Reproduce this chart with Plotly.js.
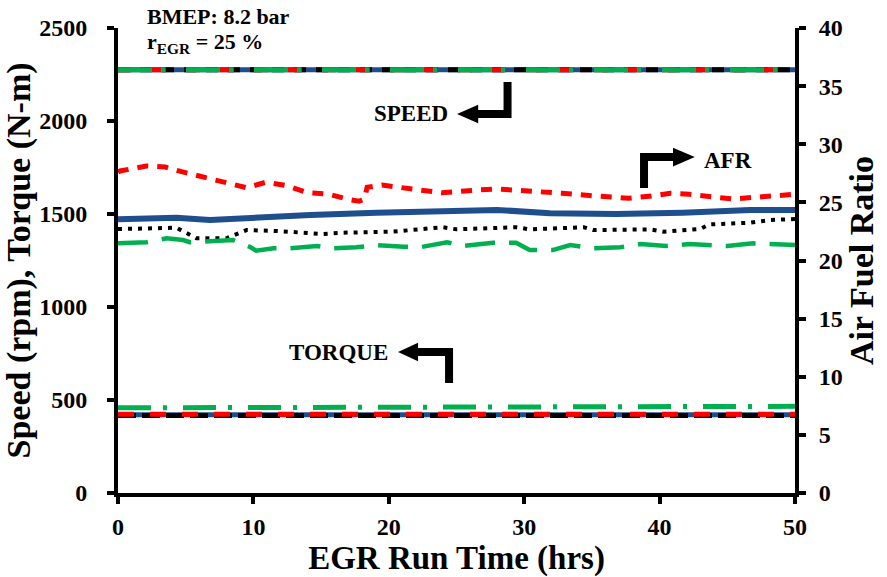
<!DOCTYPE html>
<html>
<head>
<meta charset="utf-8">
<script src="https://cdn.plot.ly/plotly-3.0.1.min.js"></script>
<style>
  html, body { margin: 0; padding: 0; background: #fff; }
  #chart { width: 887px; height: 577px; }
</style>
</head>
<body>
<div id="chart"></div>
<script>
// ---- Engine speed (rpm) and torque (N-m) over the 50 h EGR run ----
const flatHours = [0, 10, 20, 30, 40, 50];
const speedBlue  = [2275, 2275, 2275, 2275, 2275, 2275];
const speedBlack = [2275, 2275, 2275, 2275, 2275, 2275];
const speedRed   = [2275, 2275, 2275, 2275, 2275, 2275];
const speedGreen = [2275, 2275, 2275, 2275, 2275, 2275];

const torqueBlue  = [421, 421, 421, 421, 421, 421];
const torqueBlack = [416, 416, 416, 416, 416, 416];
const torqueRed   = [423, 423, 423, 423, 423, 423];
const torqueGreen = [458, 459, 460, 462, 464, 466];

// ---- Air fuel ratio traces ----
const redHours = [0, 0.15, 2.1, 3.5, 4.7, 6.4, 8.0, 9.5, 10.9, 12.5, 14.0, 15.5, 17.0, 17.8, 18.2, 18.4,
                  19.5, 20.8, 22.3, 23.9, 25.1, 26.5, 28.1, 29.6, 31.2, 32.8, 34.4, 36.0, 37.7, 39.4,
                  40.8, 42.2, 43.7, 45.4, 47.1, 48.9, 50];
const redAfr = [27.6, 27.7, 28.13, 28.04, 27.64, 27.16, 26.78, 26.26, 26.73, 26.43, 25.83, 25.72, 25.26, 25.1, 25.3, 26.3,
                26.49, 26.26, 26.06, 25.83, 25.98, 26.06, 26.15, 26.06, 25.98, 25.78, 25.63, 25.49, 25.35, 25.55,
                25.78, 25.69, 25.55, 25.29, 25.44, 25.63, 25.7];

const blueHours = [0, 4.3, 6.8, 10.5, 14.2, 19.1, 25.1, 28.0, 31.9, 36.8, 41.7, 46.7, 50];
const blueAfr   = [23.55, 23.68, 23.48, 23.72, 23.91, 24.11, 24.26, 24.35, 24.06, 24.0, 24.11, 24.34, 24.34];

const blackHours = [0, 4.3, 5.1, 5.8, 8.0, 8.8, 9.5, 11.7, 15.1, 16.6, 20.3, 24.0, 25.0, 29.4, 30.4, 34.4,
                    35.1, 39.3, 40.3, 43.0, 43.7, 46.7, 48.2, 49.4, 50];
const blackAfr   = [22.7, 22.82, 22.34, 21.91, 21.91, 22.25, 22.62, 22.54, 22.28, 22.39, 22.48, 22.86, 22.68, 22.86, 22.68, 22.86,
                    22.62, 22.68, 22.48, 22.71, 23.11, 23.25, 23.48, 23.54, 23.57];

const greenHours = [0, 2.1, 3.6, 4.8, 5.3, 6.8, 8.5, 9.8, 10.2, 11.5, 12.7, 14.7, 15.9, 17.6, 19.1, 21.1,
                    22.3, 24.3, 25.5, 27.7, 29.4, 30.4, 32.1, 33.4, 35.1, 37.1, 38.6, 40.5, 42.2, 45.0, 46.9, 50];
const greenAfr   = [21.48, 21.57, 21.91, 21.76, 21.57, 21.70, 21.76, 21.14, 20.84, 21.05, 21.05, 21.25, 21.05, 21.14, 21.31, 21.19,
                    21.14, 21.57, 21.25, 21.53, 21.53, 20.90, 20.90, 21.33, 21.05, 21.14, 21.42, 21.25, 21.42, 21.25, 21.48, 21.33];

const xTicks = [0, 10, 20, 30, 40, 50];
const yLeftTicks = [0, 500, 1000, 1500, 2000, 2500];
const yRightTicks = [0, 5, 10, 15, 20, 25, 30, 35, 40];

const BLUE = '#1f4e8c', BLACK = '#000000', RED = '#ff0000', GREEN = '#00b050';
const FONT = 'Liberation Serif, Times New Roman, serif';

function line(x, y, color, width, dash, axis) {
  return {
    x: x, y: y, type: 'scatter', mode: 'lines', yaxis: axis || 'y',
    line: { color: color, width: width, dash: dash || 'solid' },
    hoverinfo: 'skip', showlegend: false
  };
}

const traces = [
  line(flatHours, speedBlue, BLUE, 5),
  line(flatHours, speedBlack, BLACK, 5, '12px,10px'),
  line(flatHours, speedRed, RED, 5, '14px,20px'),
  line(flatHours, speedGreen, GREEN, 5, '34px,9px,4px,21px'),

  line(flatHours, torqueBlue, BLUE, 5),
  line(flatHours, torqueBlack, BLACK, 5, '18px,6px'),
  line(flatHours, torqueRed, RED, 5, '16px,16px'),
  line(flatHours, torqueGreen, GREEN, 5, '33px,12px,4px,16px'),

  line(blueHours, blueAfr, BLUE, 6, 'solid', 'y2'),
  line(blackHours, blackAfr, BLACK, 4, '4px,6px', 'y2'),
  line(greenHours, greenAfr, GREEN, 4.5, '30px,14px', 'y2'),
  line(redHours, redAfr, RED, 5, '11px,9px', 'y2')
];

// Call-out arrows (L-shaped leader plus a filled head), in data units
function leader(pts) {
  return {
    type: 'path', xref: 'x', yref: 'y',
    path: 'M ' + pts.map(p => p[0] + ',' + p[1]).join(' L '),
    line: { color: BLACK, width: 8 }
  };
}
function head(pts) {
  return {
    type: 'path', xref: 'x', yref: 'y',
    path: 'M ' + pts.map(p => p[0] + ',' + p[1]).join(' L ') + ' Z',
    fillcolor: BLACK, line: { width: 0 }
  };
}

const shapes = [
  leader([[28.77, 2210], [28.77, 2038], [26.4, 2038]]),
  head([[25.04, 2038], [26.6, 2088], [26.6, 1988]]),
  leader([[38.85, 1640], [38.85, 1806], [41.2, 1806]]),
  head([[42.6, 1806], [40.99, 1856], [40.99, 1756]]),
  leader([[24.45, 592], [24.45, 758], [22.0, 758]]),
  head([[20.68, 758], [22.16, 808], [22.16, 708]])
];

const noteFont = { family: FONT, size: 22, color: BLACK, weight: 'bold' };
const labelFont = { family: FONT, size: 23, color: BLACK, weight: 'bold' };
const annotations = [
  { text: 'BMEP: 8.2 bar', xref: 'paper', yref: 'paper', x: 0.04, y: 1.0237,
    xanchor: 'left', yanchor: 'middle', showarrow: false, font: noteFont },
  { text: 'r<sub>EGR</sub> = 25 %', xref: 'paper', yref: 'paper', x: 0.04, y: 0.9677,
    xanchor: 'left', yanchor: 'middle', showarrow: false, font: noteFont },
  { text: 'SPEED', xref: 'x', yref: 'y', x: 21.64, y: 2043, showarrow: false, font: labelFont },
  { text: 'AFR', xref: 'x', yref: 'y', x: 45.05, y: 1785, showarrow: false, font: labelFont },
  { text: 'TORQUE', xref: 'x', yref: 'y', x: 16.32, y: 758, showarrow: false, font: labelFont }
];

const tickFont = { family: FONT, size: 24, color: BLACK, weight: 'bold' };
const xTitleFont = { family: FONT, size: 33, color: BLACK, weight: 'bold' };
const yTitleFont = { family: FONT, size: 34, color: BLACK, weight: 'bold' };

const axisCommon = {
  showgrid: false, zeroline: false, showline: true, linecolor: BLACK, linewidth: 4,
  ticks: 'outside', ticklen: 7, tickwidth: 4, tickcolor: BLACK, tickfont: tickFont,
  automargin: false, fixedrange: true
};

const layout = {
  width: 887, height: 577,
  margin: { l: 118, r: 92, t: 28, b: 84 },
  paper_bgcolor: '#fff', plot_bgcolor: '#fff',
  showlegend: false,
  xaxis: Object.assign({}, axisCommon, {
    range: [0, 50], tickvals: xTicks, ticklabelstandoff: 2,
    title: { text: 'EGR Run Time (hrs)', font: xTitleFont, standoff: 0 }
  }),
  yaxis: Object.assign({}, axisCommon, {
    range: [0, 2500], tickvals: yLeftTicks, ticklabelstandoff: 15,
    title: { text: 'Speed (rpm), Torque (N-m)', font: yTitleFont, standoff: 0 }
  }),
  yaxis2: Object.assign({}, axisCommon, {
    range: [0, 40], tickvals: yRightTicks, overlaying: 'y', side: 'right', ticklabelstandoff: 8,
    title: { text: 'Air Fuel Ratio', font: yTitleFont, standoff: 4 }
  }),
  shapes: shapes,
  annotations: annotations
};

Plotly.newPlot('chart', traces, layout, { staticPlot: true, displayModeBar: false });
</script>
</body>
</html>
